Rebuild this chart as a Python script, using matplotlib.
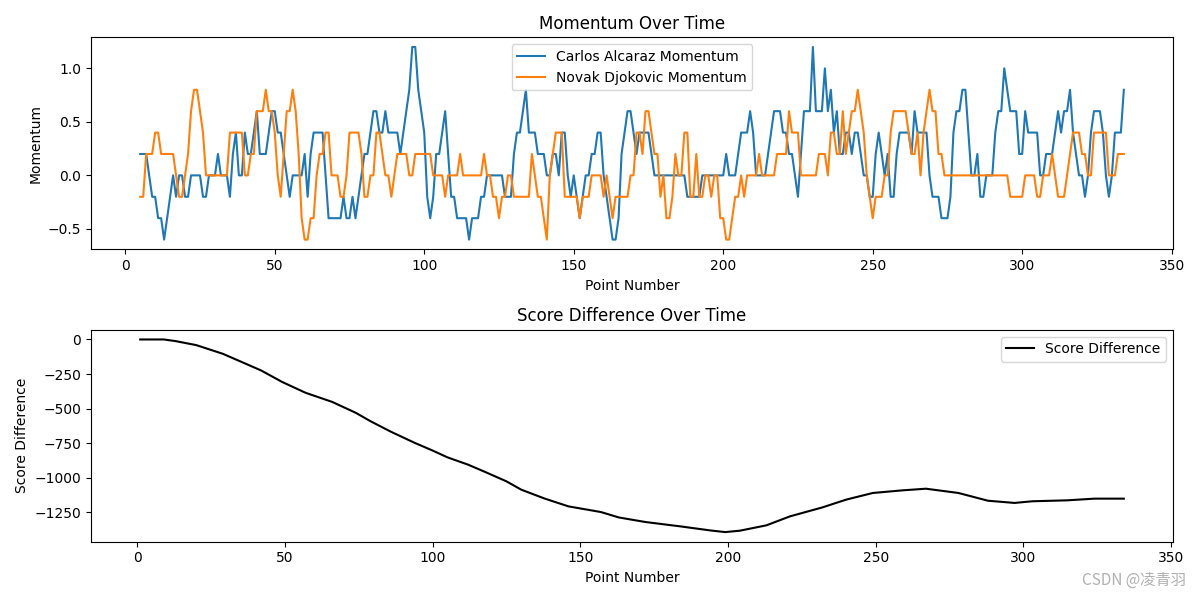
import matplotlib
matplotlib.use('Agg')
import matplotlib.pyplot as plt

# point numbers of the momentum series (rolling window starts at point 5)
points = list(range(5, 335))

# Carlos Alcaraz momentum, points 5..334 (10 values per row)
alcaraz = [
    0.2, 0.2, 0.2, 0.0, -0.2, -0.2, -0.4, -0.4, -0.6, -0.4,
    -0.2, 0.0, -0.2, 0.0, 0.0, -0.2, -0.2, 0.0, 0.0, 0.0,
    0.0, -0.2, -0.2, 0.0, 0.0, 0.0, 0.2, 0.0, 0.0, 0.0,
    -0.2, 0.2, 0.4, 0.0, 0.0, 0.4, 0.2, 0.2, 0.4, 0.6,
    0.2, 0.2, 0.2, 0.4, 0.6, 0.6, 0.4, 0.4, 0.2, 0.0,
    -0.2, 0.0, 0.0, 0.0, 0.0, 0.2, -0.2, 0.2, 0.4, 0.4,
    0.4, 0.4, 0.0, -0.4, -0.4, -0.4, -0.4, -0.4, -0.2, -0.4,
    -0.4, -0.2, -0.4, -0.2, 0.0, 0.2, 0.2, 0.4, 0.6, 0.6,
    0.4, 0.4, 0.6, 0.4, 0.4, 0.4, 0.4, 0.2, 0.4, 0.6,
    0.8, 1.2, 1.2, 0.8, 0.6, 0.4, -0.2, -0.4, -0.2, 0.2,
    0.2, 0.4, 0.6, 0.2, -0.2, -0.2, -0.4, -0.4, -0.4, -0.4,
    -0.6, -0.4, -0.4, -0.4, -0.2, -0.2, 0.0, 0.0, 0.0, 0.0,
    0.0, 0.0, -0.2, -0.2, -0.2, 0.2, 0.4, 0.4, 0.6, 0.8,
    0.4, 0.4, 0.4, 0.2, 0.2, 0.2, 0.0, 0.0, 0.2, 0.2,
    0.0, 0.4, 0.4, 0.0, -0.2, 0.0, -0.2, -0.4, -0.2, 0.0,
    0.0, 0.2, 0.2, 0.4, 0.4, 0.0, -0.2, -0.4, -0.6, -0.6,
    -0.4, 0.2, 0.4, 0.6, 0.6, 0.4, 0.2, 0.4, 0.4, 0.4,
    0.4, 0.2, 0.0, 0.0, 0.0, 0.0, 0.0, 0.0, 0.0, 0.0,
    0.0, 0.0, 0.0, -0.2, -0.2, -0.2, -0.2, -0.2, 0.0, 0.0,
    0.0, 0.0, 0.0, 0.0, 0.0, 0.0, 0.2, 0.0, 0.0, 0.0,
    0.2, 0.4, 0.4, 0.4, 0.6, 0.4, 0.0, 0.0, 0.0, 0.0,
    0.2, 0.4, 0.6, 0.6, 0.6, 0.4, 0.4, 0.2, 0.2, 0.0,
    -0.2, 0.2, 0.6, 0.6, 0.6, 1.2, 0.6, 0.6, 0.6, 1.0,
    0.6, 0.8, 0.4, 0.6, 0.2, 0.2, 0.4, 0.4, 0.2, 0.4,
    0.4, 0.2, 0.0, 0.0, -0.2, -0.2, 0.2, 0.4, 0.2, 0.0,
    0.2, -0.2, -0.2, 0.2, 0.4, 0.4, 0.4, 0.4, 0.2, 0.6,
    0.4, 0.4, 0.4, 0.4, 0.0, -0.2, -0.2, -0.2, -0.4, -0.4,
    -0.4, -0.2, 0.4, 0.6, 0.6, 0.8, 0.8, 0.4, 0.0, 0.0,
    0.2, -0.2, -0.2, 0.0, 0.0, 0.0, 0.4, 0.6, 0.6, 1.0,
    0.8, 0.6, 0.6, 0.6, 0.2, 0.2, 0.6, 0.4, 0.4, 0.4,
    0.4, 0.0, 0.0, 0.2, 0.2, 0.2, 0.4, 0.6, 0.4, 0.6,
    0.6, 0.8, 0.4, 0.2, 0.0, 0.0, -0.2, 0.0, 0.4, 0.6,
    0.6, 0.6, 0.4, 0.0, -0.2, 0.0, 0.4, 0.4, 0.4, 0.8,
]

# Novak Djokovic momentum, points 5..334
djokovic = [
    -0.2, -0.2, 0.2, 0.2, 0.2, 0.4, 0.4, 0.2, 0.2, 0.2,
    0.2, 0.2, 0.0, -0.2, -0.2, 0.0, 0.2, 0.6, 0.8, 0.8,
    0.6, 0.4, 0.0, 0.0, 0.0, 0.0, 0.0, 0.0, 0.0, 0.0,
    0.4, 0.4, 0.4, 0.4, 0.4, 0.0, 0.0, 0.2, 0.2, 0.6,
    0.6, 0.6, 0.8, 0.6, 0.6, 0.4, 0.0, -0.2, 0.2, 0.6,
    0.6, 0.8, 0.6, 0.2, -0.4, -0.6, -0.6, -0.4, -0.4, 0.0,
    0.2, 0.2, 0.4, 0.4, 0.0, 0.0, 0.0, -0.2, -0.2, 0.0,
    0.4, 0.4, 0.4, 0.4, 0.2, -0.2, -0.2, 0.0, 0.0, 0.4,
    0.4, 0.2, 0.0, 0.0, -0.2, 0.0, 0.2, 0.2, 0.2, 0.2,
    0.0, 0.0, 0.2, 0.2, 0.2, 0.2, 0.2, 0.2, 0.0, 0.0,
    0.0, 0.0, -0.2, 0.0, 0.0, 0.0, 0.0, 0.2, 0.0, 0.0,
    0.0, 0.0, 0.0, 0.0, 0.0, 0.2, 0.0, 0.0, -0.2, -0.2,
    -0.4, -0.2, -0.2, 0.0, 0.0, -0.2, -0.2, -0.2, -0.2, -0.2,
    -0.2, 0.2, 0.0, -0.2, -0.2, -0.4, -0.6, 0.0, 0.2, 0.4,
    0.4, 0.4, -0.2, -0.2, -0.2, -0.2, -0.2, -0.4, -0.2, -0.2,
    -0.2, 0.0, 0.0, 0.0, 0.0, -0.2, 0.0, -0.2, -0.4, -0.2,
    -0.2, -0.2, -0.2, -0.2, 0.0, 0.0, 0.4, 0.4, 0.2, 0.6,
    0.6, 0.4, 0.2, 0.2, -0.2, 0.0, -0.4, -0.4, -0.2, 0.2,
    0.0, 0.0, 0.4, 0.4, -0.2, -0.2, 0.2, -0.2, -0.2, 0.0,
    0.0, -0.2, 0.0, 0.0, -0.4, -0.4, -0.6, -0.6, -0.4, -0.2,
    -0.2, 0.0, -0.2, 0.0, 0.0, 0.0, 0.0, 0.2, 0.0, 0.0,
    0.0, 0.0, 0.0, 0.2, 0.2, 0.2, 0.2, 0.6, 0.4, 0.4,
    0.4, 0.0, 0.0, 0.0, 0.0, 0.0, 0.0, 0.2, 0.2, 0.2,
    0.0, 0.4, 0.4, 0.2, 0.2, 0.6, 0.2, 0.4, 0.6, 0.6,
    0.8, 0.6, 0.4, 0.0, -0.2, -0.4, -0.2, -0.2, -0.2, 0.0,
    0.0, 0.4, 0.6, 0.6, 0.6, 0.6, 0.6, 0.4, 0.2, 0.2,
    0.4, 0.0, 0.4, 0.6, 0.8, 0.6, 0.6, 0.2, 0.2, 0.0,
    0.0, 0.0, 0.0, 0.0, 0.0, 0.0, 0.0, 0.0, 0.0, 0.0,
    0.0, 0.0, 0.0, 0.0, 0.0, 0.0, 0.0, 0.0, 0.0, 0.0,
    0.0, -0.2, -0.2, -0.2, -0.2, -0.2, 0.0, 0.0, 0.0, 0.0,
    -0.2, -0.2, 0.0, 0.0, 0.0, 0.2, 0.0, -0.2, -0.2, -0.2,
    0.0, 0.2, 0.4, 0.4, 0.4, 0.2, 0.2, 0.0, 0.0, 0.4,
    0.4, 0.4, 0.4, 0.4, 0.0, 0.0, 0.0, 0.2, 0.2, 0.2,
]

# score difference at these point numbers
score_points = [1, 9, 13, 20, 29, 36, 42, 49, 57, 66, 74, 79, 86, 94, 100,
                105, 112, 118, 125, 130, 138, 146, 157, 163, 172, 184, 194,
                199, 204, 213, 221, 232, 240, 249, 259, 267, 278, 288, 297,
                303, 315, 324, 334]
score_diff = [0, 0, -12, -41, -104, -169, -225, -307, -386, -452, -531, -592,
              -669, -749, -804, -853, -906, -961, -1027, -1087, -1152, -1208,
              -1249, -1288, -1321, -1353, -1382, -1394, -1384, -1345, -1280,
              -1215, -1159, -1111, -1092, -1080, -1111, -1167, -1183, -1171,
              -1164, -1152, -1152]

fig, (ax1, ax2) = plt.subplots(2, 1, figsize=(12, 6), dpi=100)

# momentum of both players
ax1.plot(points, alcaraz, label='Carlos Alcaraz Momentum')
ax1.plot(points, djokovic, label='Novak Djokovic Momentum')
ax1.set_title('Momentum Over Time')
ax1.set_xlabel('Point Number')
ax1.set_ylabel('Momentum')
ax1.legend(loc='upper center')

# running score difference
ax2.plot(score_points, score_diff, color='black', label='Score Difference')
ax2.set_title('Score Difference Over Time')
ax2.set_xlabel('Point Number')
ax2.set_ylabel('Score Difference')
ax2.legend(loc='upper right')

plt.tight_layout()

fig.text(0.988, 0.018, 'CSDN @凌青羽', ha='right', va='bottom', fontsize=11,
         color='#b0b0b0', family=['Noto Sans CJK SC', 'DejaVu Sans'])

plt.savefig('out.png')
